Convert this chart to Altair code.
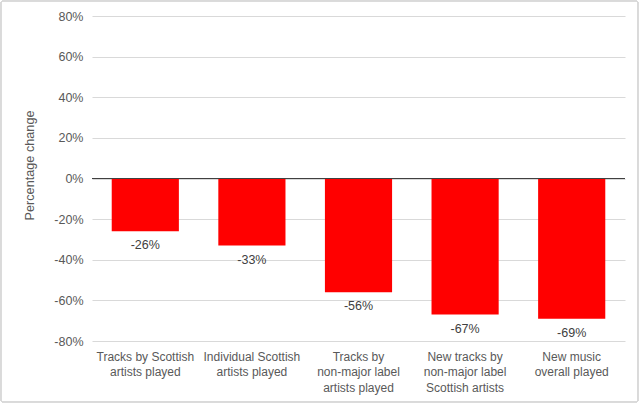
import altair as alt
import pandas as pd

# Categories (line breaks as drawn under each bar) and percentage changes
categories = [
    "Tracks by Scottish|artists played",
    "Individual Scottish|artists played",
    "Tracks by|non-major label|artists played",
    "New tracks by|non-major label|Scottish artists",
    "New music|overall played",
]
changes = [-0.26, -0.33, -0.56, -0.67, -0.69]

df = pd.DataFrame({"category": categories, "change": changes})

FONT = "Liberation Sans"
GREY_TEXT = "#595959"

x_enc = alt.X(
    "category:N",
    sort=categories,
    title=None,
    scale=alt.Scale(paddingInner=0.37, paddingOuter=0.185),
    axis=alt.Axis(
        labelExpr="split(datum.label, '|')",
        labelAngle=0,
        labelPadding=10,
        labelLineHeight=15.5,
        labelLimit=200,
        labelFontSize=12,
        labelColor=GREY_TEXT,
        labelFont=FONT,
        ticks=False,
        domain=False,
        grid=False,
    ),
)

y_scale = alt.Scale(domain=[-0.8, 0.8], nice=False)

bars = alt.Chart(df).mark_bar(color="#ff0000").encode(
    x=x_enc,
    y=alt.Y(
        "change:Q",
        scale=y_scale,
        title="Percentage change",
        axis=alt.Axis(
            values=[-0.8, -0.6, -0.4, -0.2, 0, 0.2, 0.4, 0.6, 0.8],
            format=".0%",
            labelExpr="replace(datum.label, '\u2212', '-')",
            labelFontSize=12.5,
            labelColor=GREY_TEXT,
            labelFont=FONT,
            labelPadding=9,
            ticks=False,
            domain=False,
            gridColor="#d9d9d9",
            gridWidth=1,
            titleFont=FONT,
            titleFontSize=12.7,
            titleFontWeight="normal",
            titleColor=GREY_TEXT,
            titleAngle=270,
            titleAlign="center",
            titleBaseline="middle",
            titleX=-63,
            titleY=149,
        ),
    ),
)

zero_rule = alt.Chart(df).mark_rule(color="#404040", strokeWidth=1).encode(
    y=alt.Y("z:Q", scale=y_scale),
).transform_calculate(z="0")

label_bg = alt.Chart(df).mark_point(
    shape="M-1.35,-0.5 H1.35 V0.5 H-1.35 Z",
    filled=True,
    color="white",
    opacity=1,
    size=190,
    yOffset=14,
).encode(x=alt.X("category:N", sort=categories), y=alt.Y("change:Q", scale=y_scale))

labels = alt.Chart(df).mark_text(
    font=FONT,
    fontSize=12.5,
    color="#404040",
    baseline="middle",
    yOffset=14,
).transform_calculate(
    label="(datum.change < 0 ? '-' : '') + format(abs(datum.change) * 100, '.0f') + '%'"
).encode(
    x=alt.X("category:N", sort=categories),
    y=alt.Y("change:Q", scale=y_scale),
    text="label:N",
)

frame = alt.Chart(df).mark_rect(
    fill=None, stroke="#d9d9d9", strokeWidth=1, clip=False, cornerRadius=2
).encode(
    x=alt.value(-91), x2=alt.value(546), y=alt.value(-15), y2=alt.value(386)
)

chart = (
    alt.layer(bars, zero_rule, label_bg, labels, frame)
    .properties(
        width=533,
        height=325,
        autosize=alt.AutoSizeParams(type="none"),
        padding={"left": 92, "top": 16, "right": 15, "bottom": 63},
        background="white",
    )
    .configure_view(stroke=None)
)

chart.save("out.html", embed_options={"renderer": "svg", "actions": False})
